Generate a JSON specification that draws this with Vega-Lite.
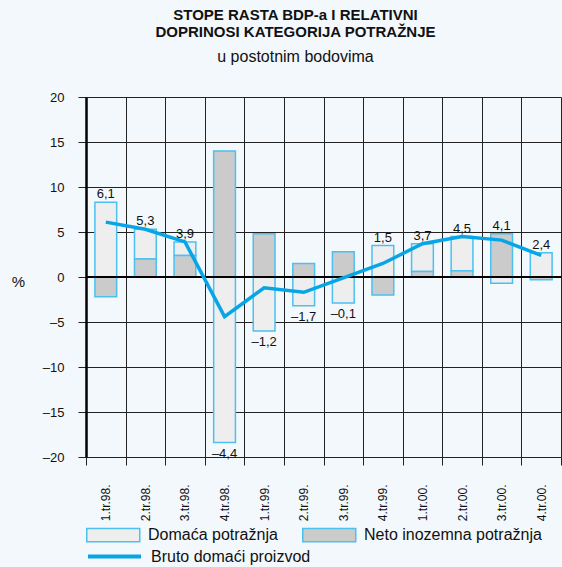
{
  "$schema": "https://vega.github.io/schema/vega-lite/v6.json",
  "width": 475,
  "height": 360,
  "autosize": "none",
  "padding": {"left": 86, "top": 97, "right": 1, "bottom": 110},
  "background": "#f3f8fc",
  "title": {
    "text": ["STOPE RASTA BDP-a I RELATIVNI", "DOPRINOSI KATEGORIJA POTRAŽNJE"],
    "subtitle": "u postotnim bodovima",
    "anchor": "middle",
    "dx": -28,
    "offset": 26,
    "font": "Liberation Sans",
    "fontSize": 15,
    "fontWeight": "bold",
    "lineHeight": 17,
    "color": "#111",
    "subtitleFont": "Liberation Sans",
    "subtitleFontSize": 16,
    "subtitleColor": "#111",
    "subtitlePadding": 9
  },
  "config": {
    "locale": {"number": {"decimal": ",", "thousands": ".", "grouping": [3], "currency": ["", " kn"], "minus": "–"}},
    "font": "Liberation Sans",
    "view": {"stroke": null}
  },
  "data": {
    "values": [
      {"q": "1.tr.98.", "dom": 8.3, "net": -2.2, "bdp": 6.1},
      {"q": "2.tr.98.", "dom": 3.3, "net": 2.0, "bdp": 5.3},
      {"q": "3.tr.98.", "dom": 1.5, "net": 2.4, "bdp": 3.9},
      {"q": "4.tr.98.", "dom": -18.4, "net": 14.0, "bdp": -4.4},
      {"q": "1.tr.99.", "dom": -6.0, "net": 4.8, "bdp": -1.2},
      {"q": "2.tr.99.", "dom": -3.2, "net": 1.5, "bdp": -1.7},
      {"q": "3.tr.99.", "dom": -2.9, "net": 2.8, "bdp": -0.1},
      {"q": "4.tr.99.", "dom": 3.5, "net": -2.0, "bdp": 1.5},
      {"q": "1.tr.00.", "dom": 3.1, "net": 0.6, "bdp": 3.7},
      {"q": "2.tr.00.", "dom": 3.8, "net": 0.7, "bdp": 4.5},
      {"q": "3.tr.00.", "dom": -0.7, "net": 4.8, "bdp": 4.1},
      {"q": "4.tr.00.", "dom": 2.7, "net": -0.3, "bdp": 2.4}
    ]
  },
  "encoding": {
    "x": {
      "field": "q", "type": "nominal", "sort": null,
      "scale": {"paddingInner": 0, "paddingOuter": 0},
      "axis": {
        "title": null, "labelAngle": -90, "tickBand": "extent", "grid": true,
        "gridColor": "#222", "gridWidth": 1, "tickColor": "#222", "tickSize": 8,
        "domain": false, "labelPadding": 19, "labelFontSize": 12, "labelColor": "#111",
        "labelAlign": "right", "labelBaseline": "middle"
      }
    }
  },
  "layer": [
    {
      "transform": [{"fold": ["dom", "net"], "as": ["kat", "val"]}],
      "mark": {"type": "bar", "width": {"band": 0.55}, "stroke": "#4cc0ee", "strokeWidth": 1.5},
      "encoding": {
        "y": {
          "field": "val", "type": "quantitative", "stack": "zero",
          "scale": {"domain": [-20, 20], "nice": false},
          "axis": {
            "values": [-20, -15, -10, -5, 0, 5, 10, 15, 20], "format": "d",
            "grid": true, "gridColor": "#222", "gridWidth": 1,
            "domainColor": "#000", "domainWidth": 2.5, "tickColor": "#222", "tickSize": 8,
            "labelPadding": 14, "labelFontSize": 13, "labelColor": "#111",
            "title": "%", "titleAngle": 0, "titleX": -68, "titleY": 184,
            "titleFontSize": 15, "titleFontWeight": "normal", "titleColor": "#111",
            "titleAlign": "center", "titleBaseline": "middle"
          }
        },
        "fill": {
          "field": "kat", "type": "nominal",
          "scale": {"domain": ["dom", "net"], "range": ["#eeeeee", "#cbcbcb"]},
          "legend": {
            "orient": "none", "legendX": 0, "legendY": 424, "direction": "horizontal",
            "title": null, "symbolType": "M-1,-0.5H3V0.5H-1Z", "symbolSize": 702,
            "symbolStrokeColor": "#4cc0ee", "symbolStrokeWidth": 1.5, "symbolOpacity": 1,
            "labelOffset": 34, "labelFontSize": 16, "labelColor": "#111", "columnPadding": 21,
            "labelLimit": 300,
            "labelExpr": "datum.label == 'dom' ? 'Domaća potražnja' : 'Neto inozemna potražnja'"
          }
        },
        "order": {"field": "kat", "sort": "descending"}
      }
    },
    {
      "mark": {"type": "rule", "color": "#000", "strokeWidth": 2},
      "encoding": {"y": {"datum": 0}, "x": {}}
    },
    {
      "mark": {"type": "line", "strokeWidth": 3.5},
      "encoding": {
        "y": {"field": "bdp", "type": "quantitative"},
        "stroke": {
          "datum": "Bruto domaći proizvod", "type": "nominal",
          "scale": {"range": ["#08a5e6"]},
          "legend": {
            "orient": "none", "legendX": 0, "legendY": 431, "title": null,
            "symbolType": "stroke", "symbolSize": 2809, "symbolStrokeWidth": 4,
            "labelOffset": 8, "labelFontSize": 16, "labelColor": "#111", "labelLimit": 300
          }
        }
      }
    },
    {
      "transform": [
        {"filter": "datum.bdp >= 0"},
        {"calculate": "max(datum.dom, 0) + max(datum.net, 0)", "as": "ly"}
      ],
      "mark": {"type": "text", "baseline": "alphabetic", "dy": -4, "fontSize": 13, "color": "#111"},
      "encoding": {
        "y": {"field": "ly", "type": "quantitative"},
        "text": {"field": "bdp", "type": "quantitative", "format": ".1f"}
      }
    },
    {
      "transform": [
        {"filter": "datum.bdp < 0"},
        {"calculate": "min(datum.dom, 0) + min(datum.net, 0)", "as": "ly"}
      ],
      "mark": {"type": "text", "baseline": "top", "dy": 5, "fontSize": 13, "color": "#111"},
      "encoding": {
        "y": {"field": "ly", "type": "quantitative"},
        "text": {"field": "bdp", "type": "quantitative", "format": ".1f"}
      }
    }
  ]
}
